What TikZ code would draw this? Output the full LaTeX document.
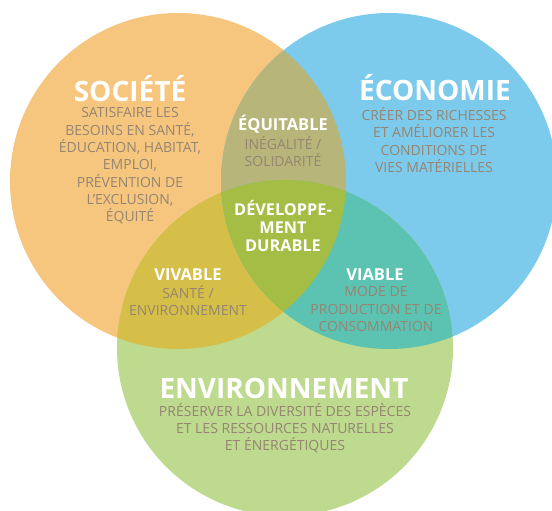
\documentclass[tikz,border=0pt]{standalone}
\usepackage{fontspec}
\setmainfont{Open Sans}
\definecolor{soc}{HTML}{F6C67E}
\definecolor{eco}{HTML}{7DCBEC}
\definecolor{env}{HTML}{BDDA8E}
\definecolor{socEco}{HTML}{B7B57A}
\definecolor{socEnv}{HTML}{D6BF48}
\definecolor{ecoEnv}{HTML}{5CC3B2}
\definecolor{allThree}{HTML}{A3BD45}
\definecolor{txt}{HTML}{958572}
\begin{document}
\begin{tikzpicture}[x=1pt,y=-1pt,
  bigtitle/.style={text=white,font=\bfseries\fontsize{28}{30}\selectfont,inner sep=0pt,anchor=base},
  subtitle/.style={text=white,font=\bfseries\fontsize{16.5}{18}\selectfont,inner sep=0pt,anchor=base},
  bodytext/.style={text=txt,font=\fontsize{14}{17.3}\selectfont,align=center,inner sep=0pt},
  coretext/.style={text=white,font=\bfseries\fontsize{16.3}{18}\selectfont,align=center,inner sep=0pt}]
\useasboundingbox (0,0) rectangle (552,511);
\def\Soc{(178,181) circle[radius=168pt]}
\def\Eco{(389,181) circle[radius=168pt]}
\def\Env{(285,348) circle[radius=168pt]}
\fill[soc] \Soc;
\fill[eco] \Eco;
\fill[env] \Env;
\begin{scope}\clip \Soc; \fill[socEco] \Eco; \end{scope}
\begin{scope}\clip \Soc; \fill[socEnv] \Env; \end{scope}
\begin{scope}\clip \Eco; \fill[ecoEnv] \Env; \end{scope}
\begin{scope}\clip \Soc; \clip \Eco; \fill[allThree] \Env; \end{scope}
% titles
\node[bigtitle] (socT) at (130,102) {SOCIÉTÉ};
\node[bodytext] (socB) at (130,166) {SATISFAIRE LES\\BESOINS EN SANTÉ,\\ÉDUCATION, HABITAT,\\EMPLOI,\\PRÉVENTION DE\\L’EXCLUSION,\\ÉQUITÉ};
\node[bigtitle] (ecoT) at (435,101) {ÉCONOMIE};
\node[bodytext] (ecoB) at (434,140) {CRÉER DES RICHESSES\\ET AMÉLIORER LES\\CONDITIONS DE\\VIES MATÉRIELLES};
\node[bigtitle] (envT) at (284,398) {ENVIRONNEMENT};
\node[bodytext] (envB) at (285,428) {PRÉSERVER LA DIVERSITÉ DES ESPÈCES\\ET LES RESSOURCES NATURELLES\\ET ÉNERGÉTIQUES};
% intersections
\node[subtitle] (equT) at (283,130) {ÉQUITABLE};
\node[bodytext] (equB) at (283,151.5) {INÉGALITÉ /\\SOLIDARITÉ};
\node[subtitle] (vivT) at (188,280) {VIVABLE};
\node[bodytext] (vivB) at (188,300.5) {SANTÉ /\\ENVIRONNEMENT};
\node[subtitle] (viaT) at (375,280) {VIABLE};
\node[bodytext] (viaB) at (376,309) {MODE DE\\PRODUCTION ET DE\\CONSOMMATION};
\node[coretext] (core) at (283,226) {DÉVELOPPE-\\MENT\\DURABLE};
\end{tikzpicture}
\end{document}
